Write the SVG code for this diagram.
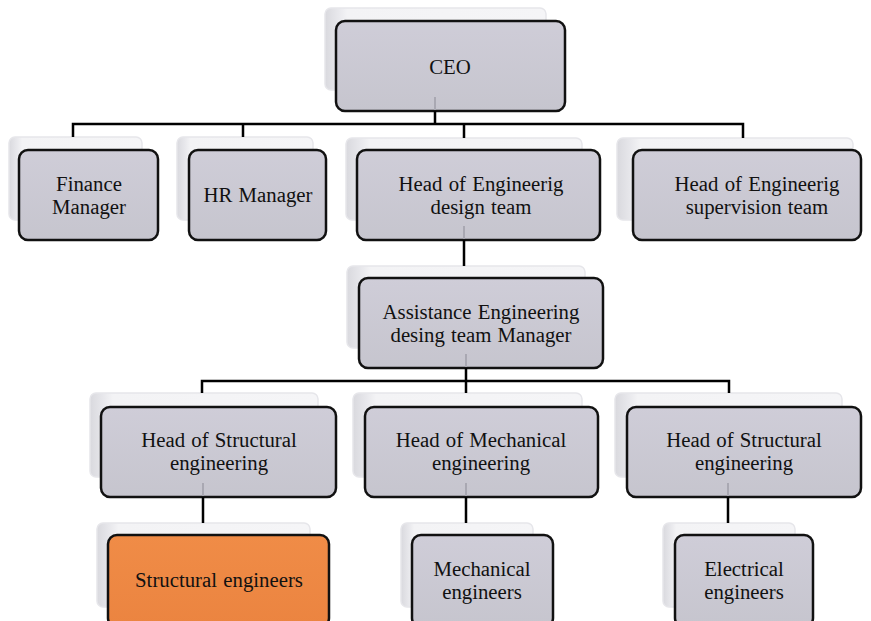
<svg xmlns="http://www.w3.org/2000/svg" width="871" height="621" viewBox="0 0 871 621">
<defs>
<linearGradient id="sh" x1="0" y1="0" x2="1" y2="0">
<stop offset="0" stop-color="#d9d9de"/>
<stop offset="0.06" stop-color="#e8e8ec"/>
<stop offset="0.1" stop-color="#f3f3f5"/>
<stop offset="1" stop-color="#f5f5f7"/>
</linearGradient>
<linearGradient id="fg" x1="0" y1="0" x2="0" y2="1">
<stop offset="0" stop-color="#cfcdd8"/>
<stop offset="1" stop-color="#c6c5ce"/>
</linearGradient>
<linearGradient id="og" x1="0" y1="0" x2="0" y2="1">
<stop offset="0" stop-color="#f08c47"/>
<stop offset="1" stop-color="#eb8440"/>
</linearGradient>
</defs>
<style>
.shadow{fill:url(#sh);stroke:#e6e6ea;stroke-width:1.5}
.box{fill:url(#fg);stroke:#111;stroke-width:2.5}
.orange{fill:url(#og);stroke:#111;stroke-width:2.5}
.t{font-family:"Liberation Serif","Times New Roman",serif;font-size:20.8px;word-spacing:1px;fill:#111;text-anchor:middle}
.ln{fill:none;stroke:#000;stroke-width:2.5}
.fl{fill:none;stroke:#a9a8b2;stroke-width:2}
</style>
<rect width="871" height="621" fill="#fff"/>

<g id="ceo">
<rect class="shadow" x="325" y="8" width="221" height="82" rx="6"/>
<rect class="box" x="336" y="21" width="229" height="90" rx="9"/>
<text class="t" x="450" y="74">CEO</text>
</g>
<g id="finance">
<rect class="shadow" x="9" y="137" width="133" height="83" rx="6"/>
<rect class="box" x="19" y="150" width="139" height="90" rx="9"/>
<text class="t" x="89" y="191">Finance</text>
<text class="t" x="89" y="214">Manager</text>
</g>
<g id="hr">
<rect class="shadow" x="177" y="137" width="136" height="83" rx="6"/>
<rect class="box" x="189" y="150" width="137" height="90" rx="9"/>
<text class="t" x="258" y="202">HR Manager</text>
</g>
<g id="design">
<rect class="shadow" x="346" y="138" width="236" height="82" rx="6"/>
<rect class="box" x="357" y="150" width="243" height="90" rx="9"/>
<text class="t" x="481" y="191">Head of Engineerig</text>
<text class="t" x="481" y="214">design team</text>
</g>
<g id="supervision">
<rect class="shadow" x="617" y="138" width="236" height="82" rx="6"/>
<rect class="box" x="633" y="150" width="228" height="90" rx="9"/>
<text class="t" x="757" y="191">Head of Engineerig</text>
<text class="t" x="757" y="214">supervision team</text>
</g>
<g id="assistance">
<rect class="shadow" x="347" y="266" width="238" height="82" rx="6"/>
<rect class="box" x="359" y="278" width="244" height="90" rx="9"/>
<text class="t" x="481" y="319">Assistance Engineering</text>
<text class="t" x="481" y="342">desing team Manager</text>
</g>
<g id="headStructural1">
<rect class="shadow" x="90" y="393" width="228" height="84" rx="6"/>
<rect class="box" x="101" y="407" width="235" height="90" rx="9"/>
<text class="t" x="219" y="447">Head of Structural</text>
<text class="t" x="219" y="470">engineering</text>
</g>
<g id="headMechanical">
<rect class="shadow" x="353" y="393" width="229" height="84" rx="6"/>
<rect class="box" x="365" y="407" width="233" height="90" rx="9"/>
<text class="t" x="481" y="447">Head of Mechanical</text>
<text class="t" x="481" y="470">engineering</text>
</g>
<g id="headStructural2">
<rect class="shadow" x="615" y="393" width="227" height="84" rx="6"/>
<rect class="box" x="627" y="407" width="234" height="90" rx="9"/>
<text class="t" x="744" y="447">Head of Structural</text>
<text class="t" x="744" y="470">engineering</text>
</g>
<g id="structuralEngineers">
<rect class="shadow" x="97" y="523" width="213" height="84" rx="6"/>
<rect class="orange" x="108" y="535" width="221" height="92" rx="9"/>
<text class="t" x="219" y="587">Structural engineers</text>
</g>
<g id="mechanicalEngineers">
<rect class="shadow" x="401" y="523" width="132" height="84" rx="6"/>
<rect class="box" x="412" y="535" width="141" height="92" rx="9"/>
<text class="t" x="482" y="576">Mechanical</text>
<text class="t" x="482" y="599">engineers</text>
</g>
<g id="electricalEngineers">
<rect class="shadow" x="663" y="523" width="132" height="84" rx="6"/>
<rect class="box" x="675" y="535" width="138" height="92" rx="9"/>
<text class="t" x="744" y="576">Electrical</text>
<text class="t" x="744" y="599">engineers</text>
</g>

<g id="connectors">
<path class="fl" d="M435 97V110M464 226V239M466 354V367M203 483V496M466 483V496M728 483V496"/>
<path class="ln" d="M435 111V124M73 137V124H743V138M243 124V137M464 124V138M464 240V266M466 368V381M202 393V381H729V393M466 381V393M203 497V523M466 497V523M728 497V523"/>
</g>
</svg>
